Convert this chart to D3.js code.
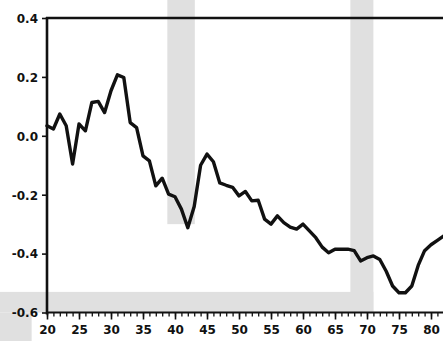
<!DOCTYPE html>
<html>
<head>
<meta charset="utf-8">
<script src="https://cdn.jsdelivr.net/npm/d3@7/dist/d3.min.js"></script>
<style>
  html, body { margin: 0; padding: 0; background: #fff; }
  svg { display: block; }
  text { font-family: "DejaVu Sans", sans-serif; font-weight: bold; fill: #111; }
</style>
</head>
<body>
<svg id="chart" width="443" height="341"></svg>
<script>
// Annual series, years 20..82
const years = d3.range(20, 83);
const values = [
  0.034, 0.023, 0.074, 0.034, -0.096, 0.040, 0.017, 0.113, 0.117, 0.079,   // 20-29
  0.153, 0.207, 0.198, 0.045, 0.028, -0.068, -0.085, -0.170, -0.144, -0.198, // 30-39
  -0.207, -0.249, -0.312, -0.240, -0.100, -0.062, -0.088, -0.160, -0.168, -0.175, // 40-49
  -0.204, -0.189, -0.221, -0.219, -0.283, -0.300, -0.272, -0.295, -0.310, -0.317, // 50-59
  -0.300, -0.323, -0.346, -0.378, -0.397, -0.385, -0.385, -0.385, -0.390, -0.425, // 60-69
  -0.414, -0.408, -0.420, -0.460, -0.510, -0.533, -0.533, -0.510, -0.440, -0.390, // 70-79
  -0.370, -0.355, -0.340                                                     // 80-82
];
const yTicks = [0.4, 0.2, 0.0, -0.2, -0.4, -0.6];
const yTickLabels = ["0.4", "0.2", "0.0", "-0.2", "-0.4", "-0.6"];
const xMajorTicks = [20, 25, 30, 35, 40, 45, 50, 55, 60, 65, 70, 75, 80];

// Light grey background bands (in data units)
const bandsX0 = [38.8, 67.4, 10];
const bandsX1 = [43.1, 71.0, 71.0];
const bandsY0 = [0.47, 0.47, -0.53];
const bandsY1 = [-0.30, -0.60, -0.60];

const svg = d3.select("#chart");
const x = d3.scaleLinear().domain([20, 85]).range([47, 463]);
const y = d3.scaleLinear().domain([-0.6, 0.4]).range([312.5, 18]);

// background bands
svg.append("g").selectAll("rect")
  .data(bandsX0.map((d, i) => i))
  .join("rect")
  .attr("x", i => Math.max(0, x(bandsX0[i])))
  .attr("width", i => x(bandsX1[i]) - Math.max(0, x(bandsX0[i])))
  .attr("y", i => y(bandsY0[i]))
  .attr("height", i => y(bandsY1[i]) - y(bandsY0[i]))
  .attr("fill", "#e0e0e0");
// small grey patch at the lower left corner
svg.append("rect")
  .attr("x", 0).attr("width", x(17.6))
  .attr("y", y(-0.6)).attr("height", 341 - y(-0.6))
  .attr("fill", "#e0e0e0");

// y axis
const yAxis = d3.axisLeft(y)
  .tickValues(yTicks)
  .tickFormat((d, i) => yTickLabels[i])
  .tickSize(5)
  .tickPadding(4);
const gy = svg.append("g").attr("transform", `translate(${x(20)},0)`).call(yAxis);
gy.select(".domain").remove();
gy.selectAll(".tick line").attr("stroke", "#111").attr("stroke-width", 1.6);
gy.selectAll(".tick text").style("font-size", "12px").attr("dy", "0.36em");

// x axis: minor ticks every year, longer ticks every five
const gxMinor = svg.append("g").attr("transform", `translate(0,${y(-0.6)})`)
  .call(d3.axisBottom(x).tickValues(d3.range(20, 86)).tickSize(4).tickFormat(""));
gxMinor.select(".domain").remove();
gxMinor.selectAll(".tick line").attr("stroke", "#111").attr("stroke-width", 1.3);

const gx = svg.append("g").attr("transform", `translate(0,${y(-0.6)})`)
  .call(d3.axisBottom(x).tickValues(xMajorTicks).tickSize(7).tickPadding(5).tickFormat(d3.format("d")));
gx.select(".domain").remove();
gx.selectAll(".tick line").attr("stroke", "#111").attr("stroke-width", 1.6);
gx.selectAll(".tick text").style("font-size", "12px").attr("dy", "0.75em");

// frame: left, bottom, top
svg.append("line")
  .attr("x1", x(20)).attr("x2", x(20))
  .attr("y1", y(0.4) - 1).attr("y2", y(-0.6) + 2)
  .attr("stroke", "#111").attr("stroke-width", 2.6);
svg.append("line")
  .attr("x1", x(20) - 1).attr("x2", 443)
  .attr("y1", y(-0.6)).attr("y2", y(-0.6))
  .attr("stroke", "#111").attr("stroke-width", 2.2);
svg.append("line")
  .attr("x1", x(20) - 1).attr("x2", 443)
  .attr("y1", y(0.4)).attr("y2", y(0.4))
  .attr("stroke", "#111").attr("stroke-width", 2.6);

// series line
const line = d3.line()
  .x((d, i) => x(years[i]))
  .y(d => y(d));
svg.append("path")
  .datum(values)
  .attr("d", line)
  .attr("fill", "none")
  .attr("stroke", "#111")
  .attr("stroke-width", 3.4)
  .attr("stroke-linejoin", "round")
  .attr("stroke-linecap", "round");
</script>
</body>
</html>
